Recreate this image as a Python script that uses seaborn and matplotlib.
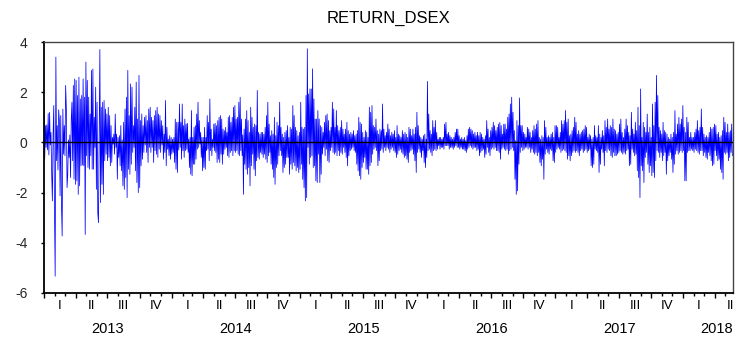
import numpy as np
import pandas as pd
import matplotlib
matplotlib.use("Agg")
import matplotlib.pyplot as plt
import matplotlib.dates as mdates
import matplotlib.transforms as mtransforms
import seaborn as sns

# ---------------- data ----------------
series_name = "RETURN_DSEX"

# date boundaries of the five stretches of readings
segment_bounds = ["2013-01-01", "2014-01-27", "2015-02-26",
                  "2016-03-28", "2017-04-26", "2018-05-23"]

seg1 = [1.6, -0.67, 0.67, -0.2, 0.7, -0.3, 1.15, -0.5, 1.2, -0.1, 0.4, -1.27, -2.33, 0.3, 1.47, -2.7,
        -5.33, 3.4, -0.73, 0.67, -1.1, 1.3, 0.87, -2.13, 1.07, -2.47, -3.73, 1.33, -0.47, 0.67, -0.53, 2.27,
        1.33, -1.8, -1.27, 0.1, -0.6, 0.3, -1.4, 0.87, 1.6, -0.73, 2.27, -1.47, 2.53, -1.67, 2.47, -1.53,
        1.87, -2.07, 2.6, -1.73, 1.73, -0.93, 1.87, -0.9, 2.53, -0.93, 1.8, -3.67, 3.2, -0.53, 2.47, -1.0,
        1.8, -1.07, 1.13, -0.53, 2.87, -1.07, 2.93, -1.07, 1.0, -0.2, 2.2, -1.87, 1.6, -2.8, -3.2, 0.5,
        3.7, -2.4, 1.4, -1.67, 1.6, -2.07, 1.67, -0.73, 1.33, -0.47, 1.13, -0.73, 1.4, -0.6, 1.07, -0.93,
        0.67, -0.8, 0.2, -0.07, 0.33, -0.47, 1.13, -0.2, 0.33, -1.47, 0.2, -0.6, 0.27, -0.93, 0.67, -1.13,
        0.1, -1.73, 0.8, -1.87, 1.33, -1.4, 1.8, -2.2, 2.87, -1.07, 1.07, -1.27, 2.33, -0.87, 2.2, -0.4,
        0.67, -0.2, 1.4, -1.13, 2.4, -1.6, 0.93, -2.0, 2.67, -1.8, 0.87, -0.93, 1.13, -0.67, 0.67, -0.4,
        1.0, -0.1, 1.07, -0.4, 0.87, -0.8, 1.33, -0.2, 1.4, -0.4, 1.0, -0.2, 0.87, -0.8, 1.07, -0.33,
        1.27, -0.47, 1.4, -0.6, 1.13, -0.27, 1.07, -0.4, 0.87, -0.1, 0.67, -0.67, 0.33, -0.4, 1.67, -0.93,
        0.6, -0.27, 0.13, -0.53, 0.27, -0.67, 0.2, -0.47, 0.13, -0.4, 0.2, -0.8, 0.93, -1.07, 0.8, -1.2,
        0.8, -0.3, 1.53, -0.2]

seg2 = [0.8, -0.67, 1.53, -0.33, 0.67, -0.6, 0.93, -0.33, 0.73, -0.27, 0.76, -0.4, 0.13, -1.0, 0.2, -1.27,
        1.27, -1.33, 0.2, -0.87, 0.6, -0.87, 0.67, -0.67, 1.13, -0.27, 1.6, -0.2, 0.87, -0.07, 0.4, -0.6,
        0.2, -1.13, 0.2, -1.0, 0.6, -1.07, 0.2, -0.33, 1.07, -0.27, 0.8, -0.73, 1.73, -0.33, 0.53, -0.53,
        0.13, -0.2, 0.73, -0.33, 0.76, -0.4, 0.67, -0.8, 0.87, -0.67, 1.0, -0.8, 1.07, -0.47, 0.93, -0.87,
        0.53, -0.47, 0.47, -0.27, 0.6, -0.2, 0.4, -0.53, 1.0, -0.6, 1.07, -0.4, 0.8, -0.33, 1.0, -0.53,
        1.4, -0.33, 1.47, -0.4, 0.93, -0.33, 1.0, -0.47, 1.6, -0.53, 1.8, -0.33, 0.93, -0.53, 0.3, -2.07,
        0.53, -0.87, 0.93, -1.07, 1.27, -1.27, 0.87, -1.0, 0.4, -1.73, 1.4, -0.93, 1.0, -0.47, 0.6, -1.07,
        0.73, -1.33, 0.67, -0.73, 2.07, -0.6, 0.4, -0.67, 0.33, -0.4, 0.4, -0.47, 0.4, -0.6, 0.33, -0.47,
        0.6, -0.67, 1.07, -0.8, 1.6, -0.53, 0.73, -0.4, 0.27, -0.87, 0.47, -1.07, 0.33, -1.4, 1.0, -1.67,
        0.27, -1.0, 0.8, -0.87, 0.67, -0.53, 1.6, -0.33, 0.6, -0.53, 0.33, -1.2, 0.2, -1.0, 0.4, -0.87,
        0.47, -0.6, 0.67, -0.6, 0.2, -1.27, 0.6, -0.87, 0.53, -1.07, 1.47, -0.8, 1.07, -0.93, 0.6, -1.13,
        0.47, -1.0, 0.27, -1.2, 0.4, -1.07, 1.6, -0.87, 0.6, -1.47, 0.53, -1.8, 0.6, -2.33, 1.87, -2.2,
        3.73, -0.2, 1.93, -0.87, 2.13, -0.6, 2.13, -0.53, 2.93, -1.0, 1.73, -0.93, 0.93, -1.53, 0.93, -1.6,
        1.27, -0.47]

seg3 = [0.93, -1.6, 0.67, -1.27, 0.6, -0.47, 0.4, -0.2, 0.8, -0.53, 1.07, -0.27, 1.13, -0.73, 0.87, -0.8,
        0.47, -0.33, 0.6, -0.2, 1.6, -0.4, 1.33, -0.47, 0.6, -0.4, 1.27, -0.53, 0.67, -0.33, 0.47, -0.53,
        0.6, -0.4, 0.87, -0.47, 0.53, -0.2, 0.33, -0.4, 0.53, -0.6, 0.8, -0.93, 0.47, -0.53, 0.33, -0.33,
        0.4, -0.27, 0.33, -0.2, 0.47, -0.33, 0.27, -0.4, 0.33, -0.87, 0.47, -1.13, 1.0, -1.33, 0.8, -1.47,
        0.73, -1.0, 0.4, -0.8, 0.2, -0.6, 0.47, -1.07, 0.4, -1.07, 0.2, -1.27, 1.4, -0.93, 1.2, -0.8,
        1.47, -0.47, 0.67, -0.27, 0.6, -0.2, 0.93, -0.33, 0.47, -0.93, 0.33, -0.73, 0.53, -0.33, 0.47, -0.27,
        1.53, -0.4, 0.53, -0.2, 0.27, -0.33, 0.4, -0.2, 0.73, -0.27, 0.53, -0.4, 0.27, -0.27, 0.4, -0.2,
        0.33, -0.33, 0.47, -0.4, 0.2, -0.6, 0.67, -0.47, 0.33, -0.33, 0.27, -0.27, 0.2, -0.4, 0.47, -0.47,
        0.33, -0.6, 0.4, -0.53, 0.33, -0.67, 0.2, -0.8, 0.6, -0.4, 0.53, -0.33, 0.27, -0.27, 0.53, -0.47,
        0.33, -0.73, 0.6, -1.2, 1.2, -0.4, 0.67, -0.27, 0.27, -0.4, 0.2, -0.6, 0.13, -0.33, 0.27, -0.8,
        0.33, -1.0, 0.13, -0.6, 2.43, -0.33, 1.13, -0.27, 0.47, -0.4, 0.33, -0.53, 0.87, -0.33, 0.6, -0.27,
        0.87, -0.33, 0.4, -0.27, 0.13, -0.13, 0.2, -0.27, 0.2, -0.2, 0.13, -0.2, 0.2, -0.27, 0.73, -0.13,
        0.8, -0.13, 0.33, -0.13, 0.4, -0.27, 0.27, -0.2, 0.2, -0.2, 0.13, -0.27, 0.2, -0.2, 0.4, -0.13,
        0.53, -0.2]

seg4 = [0.53, -0.2, 0.27, -0.27, 0.13, -0.2, 0.2, -0.27, 0.13, -0.27, 0.2, -0.33, 0.07, -0.4, 0.27, -0.27,
        0.53, -0.2, 0.6, -0.13, 0.53, -0.2, 0.47, -0.27, 0.33, -0.2, 0.4, -0.2, 0.27, -0.33, 0.4, -0.27,
        0.27, -0.53, 0.4, -0.4, 0.33, -0.33, 0.2, -0.27, 0.13, -0.6, 0.27, -0.47, 0.87, -0.2, 0.53, -0.4,
        0.2, -0.53, 0.47, -0.27, 0.6, -0.2, 0.8, -0.27, 0.67, -0.2, 0.47, -0.33, 0.6, -0.33, 0.73, -0.4,
        0.8, -0.67, 0.67, -0.27, 0.33, -0.2, 0.73, -0.27, 0.73, -0.33, 0.53, -0.27, 1.0, -0.47, 1.13, -0.33,
        1.53, -0.27, 1.8, -0.2, 1.2, -0.33, 0.47, -1.47, 0.07, -2.07, 0.87, -1.93, 0.67, -0.87, 1.77, -0.4,
        0.67, -0.2, 0.67, -0.33, 0.4, -0.27, 0.33, -0.2, 0.2, -0.2, 0.6, -0.27, 0.53, -0.2, 0.4, -0.4,
        0.2, -0.27, 0.47, -0.4, 0.67, -0.47, 0.53, -0.4, 0.73, -0.53, 0.87, -0.4, 0.2, -0.8, 0.13, -0.93,
        0.27, -0.67, 0.2, -1.47, 0.87, -0.47, 0.6, -0.27, 0.2, -0.4, 0.27, -0.47, 0.2, -0.27, 0.33, -0.33,
        0.4, -0.73, 0.2, -0.8, 0.67, -0.4, 0.67, -0.27, 0.6, -0.2, 0.2, -0.27, 0.4, -0.4, 0.87, -0.33,
        0.73, -0.27, 0.87, -0.33, 1.27, -0.4, 0.8, -0.67, 0.93, -0.53, 0.27, -0.73, 0.33, -0.53, 0.47, -0.4,
        0.6, -0.33, 1.0, -0.4, 0.8, -0.33, 0.33, -0.4, 0.47, -0.53, 0.33, -0.33, 0.4, -0.27, 0.47, -0.4,
        0.53, -0.33, 0.67, -0.27, 0.6, -0.4, 0.2, -0.33, 0.33, -0.27, 0.27, -0.93, 0.13, -1.0, 0.2, -0.87,
        0.67, -0.27]

seg5 = [0.27, -0.33, 0.2, -0.4, 0.67, -1.2, 0.33, -0.87, 0.2, -0.27, 0.47, -0.4, 0.27, -0.93, 0.87, -0.33,
        0.6, -0.4, 0.93, -0.27, 0.53, -0.33, 0.67, -0.53, 0.6, -0.6, 0.93, -0.4, 0.53, -0.53, 0.47, -0.53,
        0.33, -0.47, 0.4, -0.4, 0.73, -0.33, 0.93, -0.4, 0.4, -0.47, 0.2, -0.4, 0.53, -0.47, 0.93, -0.33,
        0.67, -0.27, 0.4, -0.93, 0.27, -0.87, 1.2, -0.27, 0.53, -0.4, 0.33, -0.53, 0.8, -0.47, 0.47, -1.13,
        1.4, -1.4, 0.67, -2.2, 2.13, -0.93, 0.2, -1.13, 0.8, -1.6, 0.6, -0.6, 0.4, -0.4, 1.13, -0.87,
        0.4, -1.2, 0.6, -0.93, 0.2, -1.33, 1.53, -1.2, 0.67, -1.4, 1.6, -0.73, 2.67, -0.33, 1.87, -0.4,
        0.6, -0.6, 0.47, -0.4, 0.33, -0.73, 0.8, -0.53, 0.47, -0.4, 0.4, -1.27, 0.33, -0.73, 0.2, -0.53,
        0.13, -0.4, 0.33, -0.67, 0.2, -1.2, 0.4, -0.87, 1.27, -0.47, 0.33, -0.33, 0.73, -0.47, 1.0, -0.4,
        0.73, -0.33, 0.93, -0.4, 1.47, -0.33, 0.6, -1.53, 0.4, -1.53, 1.0, -0.4, 0.8, -0.33, 0.2, -0.33,
        0.4, -0.27, 0.2, -0.33, 0.2, -0.4, 0.4, -0.27, 0.53, -0.33, 0.87, -0.4, 0.47, -0.47, 0.6, -0.33,
        1.33, -0.33, 0.6, -0.53, 0.33, -0.4, 0.2, -0.6, 0.27, -0.67, 0.2, -0.4, 0.4, -0.53, 0.6, -0.73,
        0.53, -0.93, 0.6, -0.87, 0.73, -0.33, 0.67, -0.53, 0.33, -0.73, 0.4, -0.67, 0.2, -1.07, 0.27, -1.2,
        0.47, -1.47, 1.0, -0.4, 0.8, -0.47, 0.4, -0.4, 0.73, -0.73, 0.4, -0.6, 0.47, -0.4, 0.73, -0.53]

y_ticks = [4, 2, 0, -2, -4, -6]
quarter_labels = ["I", "II", "III", "IV"]
years = [2013, 2014, 2015, 2016, 2017, 2018]

# ---------------- build table ----------------
segments = [seg1, seg2, seg3, seg4, seg5]
dates, values = [], []
for seg, s, e in zip(segments, segment_bounds[:-1], segment_bounds[1:]):
    d = pd.date_range(s, e, periods=len(seg) + 1)[:-1]
    dates.extend(d)
    values.extend(seg)
df = pd.DataFrame({"date": dates, "ret": values})

# ---------------- plot ----------------
sns.set_style("ticks")
plt.rcParams["font.family"] = ["Liberation Sans", "DejaVu Sans"]
plt.rcParams["axes.unicode_minus"] = False

W, H = 736, 338
fig = plt.figure(figsize=(W / 100, H / 100), dpi=100)
ax = fig.add_axes([44 / W, 1 - 293 / H, (733 - 44) / W, (293 - 42) / H])

sns.lineplot(data=df, x="date", y="ret", color="#0000ff", lw=0.55,
             estimator=None, ax=ax)
ax.axhline(0, color="black", lw=1.0, zorder=3)

xmin, xmax = pd.Timestamp(segment_bounds[0]), pd.Timestamp(segment_bounds[-1])
ax.set_xlim(xmin, xmax)
ax.set_ylim(-6, 4)
ax.set_yticks(y_ticks)
ax.set_yticklabels([str(t) for t in y_ticks])
ax.set_xlabel("")
ax.set_ylabel("")

ax.xaxis.set_major_locator(mdates.MonthLocator(bymonth=[1, 4, 7, 10]))
ax.xaxis.set_minor_locator(mdates.MonthLocator())
ax.xaxis.set_major_formatter(plt.NullFormatter())
ax.xaxis.set_minor_formatter(plt.NullFormatter())
ax.tick_params(axis="x", which="major", length=3.8, width=1.0, direction="out", color="black")
ax.tick_params(axis="x", which="minor", length=2.0, width=1.0, direction="out", color="black")
ax.tick_params(axis="y", which="major", length=2.4, width=1.0, direction="out",
               labelsize=10, pad=9.5, color="black")

for side in ["left", "bottom"]:
    ax.spines[side].set_color("black")
    ax.spines[side].set_linewidth(1.3)
for side in ["top", "right"]:
    ax.spines[side].set_color("#444444")
    ax.spines[side].set_linewidth(1.0)

trans = mtransforms.blended_transform_factory(ax.transData, ax.transAxes)
xmin_n, xmax_n = mdates.date2num(xmin), mdates.date2num(xmax)
for yr in years:
    for qi, ql in enumerate(quarter_labels):
        qs = pd.Timestamp(year=yr, month=3 * qi + 1, day=1)
        qe = qs + pd.DateOffset(months=3)
        a, b = mdates.date2num(qs), mdates.date2num(qe)
        if b <= xmin_n or a >= xmax_n:
            continue
        mid = (a + b) / 2
        if mid > xmax_n:
            mid = (max(a, xmin_n) + xmax_n) / 2
        ax.text(mid, -0.052, ql, transform=trans, ha="center", va="center",
                fontsize=9.5, color="black")
    ys = mdates.date2num(pd.Timestamp(year=yr, month=1, day=1))
    ye = mdates.date2num(pd.Timestamp(year=yr + 1, month=1, day=1))
    mid = (ys + ye) / 2
    if mid + 20 > xmax_n:
        ax.text(xmax_n, -0.143, str(yr), transform=trans, ha="right", va="center",
                fontsize=10.5, color="black")
    else:
        ax.text(mid, -0.143, str(yr), transform=trans, ha="center", va="center",
                fontsize=10.5, color="black")

ax.set_title(series_name, fontsize=12, pad=14, color="black")

fig.savefig("out.png", dpi=100)
